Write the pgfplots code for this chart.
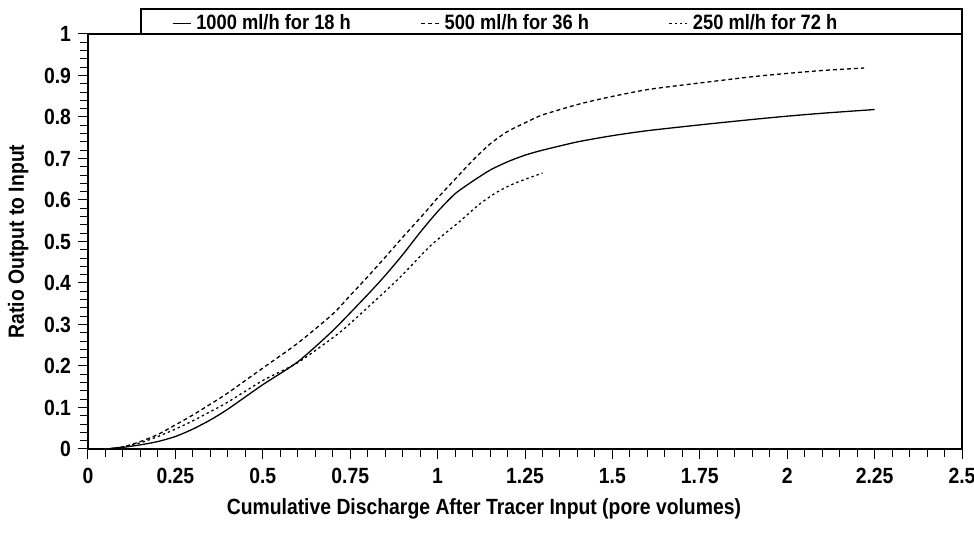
\documentclass[border=0pt]{standalone}
\usepackage{fontspec}
\setmainfont{Liberation Sans}[FakeStretch=0.88]
\usepackage{pgfplots}
\usepackage{pgfplotstable}
\pgfplotsset{compat=1.18}
\pgfplotstableread{
x y
0 0
0.05 0
0.1 0.004
0.15 0.01
0.2 0.018
0.25 0.03
0.3 0.048
0.35 0.07
0.4 0.096
0.5 0.155
0.6 0.21
0.7 0.285
0.8 0.372
0.85 0.418
0.9 0.468
0.95 0.522
1.0 0.572
1.05 0.615
1.1 0.645
1.15 0.672
1.2 0.692
1.25 0.708
1.3 0.72
1.4 0.74
1.5 0.755
1.6 0.767
1.75 0.781
1.9 0.794
2.0 0.802
2.1 0.809
2.25 0.818
}\tabA
\pgfplotstableread{
x y
0.05 0
0.1 0.005
0.15 0.018
0.2 0.035
0.25 0.058
0.3 0.082
0.35 0.108
0.4 0.135
0.5 0.195
0.6 0.255
0.7 0.325
0.75 0.37
0.8 0.415
0.85 0.462
0.9 0.51
0.96 0.566
1.0 0.605
1.05 0.65
1.1 0.695
1.15 0.735
1.2 0.765
1.26 0.79
1.3 0.805
1.4 0.83
1.48 0.846
1.6 0.866
1.75 0.882
1.9 0.897
2.0 0.905
2.1 0.912
2.22 0.918
}\tabB
\pgfplotstableread{
x y
0.05 0
0.1 0.005
0.15 0.015
0.2 0.03
0.25 0.048
0.3 0.068
0.35 0.09
0.4 0.113
0.5 0.165
0.6 0.208
0.7 0.268
0.74 0.295
0.84 0.372
0.9 0.42
0.98 0.49
1.06 0.546
1.12 0.59
1.17 0.619
1.22 0.64
1.3 0.665
}\tabC
\begin{document}
\begin{tikzpicture}
\begin{axis}[
  scale only axis, width=437pt, height=207.5pt,
  xmin=0, xmax=2.5, ymin=0, ymax=1,
  xtick={0,0.25,0.5,0.75,1,1.25,1.5,1.75,2,2.25,2.5},
  xticklabels={0,0.25,0.5,0.75,1,1.25,1.5,1.75,2,2.25,2.5},
  ytick={0,0.1,0.2,0.3,0.4,0.5,0.6,0.7,0.8,0.9,1},
  yticklabels={0,0.1,0.2,0.3,0.4,0.5,0.6,0.7,0.8,0.9,1},
  minor x tick num=4, minor y tick num=4,
  tick align=outside, tick pos=left,
  major tick length=5pt, minor tick length=4pt,
  every tick/.style={black, line width=0.5pt},
  /pgf/number format/assume math mode=true,
  ticklabel style={font=\bfseries\fontsize{11}{13}\selectfont},
  xticklabel style={yshift=-1pt},
  axis line style={line width=0.6pt},
  xlabel={Cumulative Discharge After Tracer Input (pore volumes)},
  ylabel={Ratio Output to Input},
  label style={font=\bfseries\fontsize{11}{13}\selectfont},
  xlabel style={at={(axis description cs:0.453,0)}, anchor=center, yshift=-30pt},
  ylabel style={at={(axis description cs:-0.08,0.5)}, anchor=center, rotate=0},
  legend columns=3,
  legend style={draw=none, fill=none, at={(rel axis cs:0,1)}, anchor=south west,
    xshift=42pt, yshift=0.8pt, inner sep=0pt, outer sep=0pt,
    font=\bfseries\fontsize{10.4}{12}\selectfont,
    nodes={inner sep=0pt},
    /tikz/every odd column/.style={column sep=2.5pt}},
  legend image code/.code={\draw[#1] (0pt,0pt) -- (9pt,0pt);},
]
\addplot[black, line width=0.65pt, smooth, tension=0.4] table {\tabA};
\addlegendentry{\makebox[112pt][l]{1000 ml/h for 18 h}}
\addplot[black, line width=0.65pt, dash pattern=on 2pt off 1.5pt, smooth, tension=0.4] table {\tabB};
\addlegendentry{\makebox[112pt][l]{500 ml/h for 36 h}}
\addplot[black, line width=0.65pt, dash pattern=on 1.2pt off 1.5pt, smooth, tension=0.4] table {\tabC};
\addlegendentry{\makebox[80pt][l]{250 ml/h for 72 h}}
\end{axis}
\draw[line width=0.6pt] ([xshift=26.5pt]current axis.north west) -- ++(0,12.5pt) -| (current axis.north east);
\pgfresetboundingbox
\path ([xshift=-44pt,yshift=-47.5pt]current axis.south west) rectangle ([xshift=6pt,yshift=17pt]current axis.north east);
\end{tikzpicture}
\end{document}
